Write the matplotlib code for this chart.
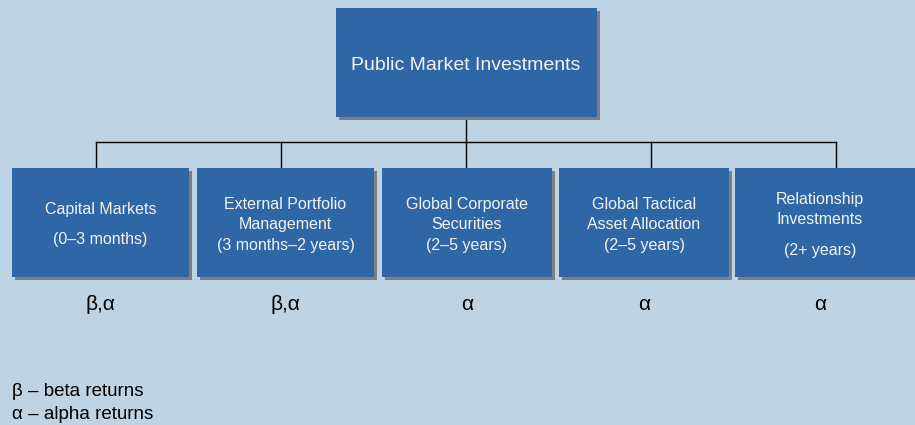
import matplotlib.pyplot as plt
from matplotlib.patches import Rectangle

# Datos del organigrama
raiz = "Public Market Investments"
unidades = [
    ["Capital Markets", "", "(0\u20133 months)"],
    ["External Portfolio", "Management", "(3 months\u20132 years)"],
    ["Global Corporate", "Securities", "(2\u20135 years)"],
    ["Global Tactical", "Asset Allocation", "(2\u20135 years)"],
    ["Relationship", "Investments", "", "(2+ years)"],
]
retornos = ["\u03b2,\u03b1", "\u03b2,\u03b1", "\u03b1", "\u03b1", "\u03b1"]
leyenda = ["\u03b2 \u2013 beta returns", "\u03b1 \u2013 alpha returns"]

fondo = "#BED3E4"
azul = "#2F67A6"
sombra = "#7F7F7F"
plt.rcParams['font.family'] = ['Liberation Sans', 'DejaVu Sans']

fig = plt.figure(figsize=(9.15, 4.25), dpi=100, facecolor=fondo)
ax = fig.add_axes([0, 0, 1, 1])
ax.set_xlim(0, 915)
ax.set_ylim(425, 0)
ax.axis('off')


def caja(x0, y0, x1, y1):
    ax.add_patch(Rectangle((x0 + 3, y0 + 3), x1 - x0, y1 - y0, color=sombra, lw=0, zorder=2))
    ax.add_patch(Rectangle((x0, y0), x1 - x0, y1 - y0, color=azul, lw=0, zorder=3))


# caja principal
caja(336, 8, 597, 117)
ax.text(466, 65, raiz, color="#F2F2F2", fontsize=14, ha='center', va='center', zorder=4)

# conectores
xs_con = [96 + 185 * i for i in range(len(unidades))]
ax.plot([466, 466], [117, 142], color='black', lw=1, zorder=1)
ax.plot([xs_con[0], xs_con[-1]], [142, 142], color='black', lw=1, zorder=1)
for xc in xs_con:
    ax.plot([xc, xc], [142, 168], color='black', lw=1, zorder=1)

# cajas hijas
bordes = [(12, 189), (197, 374), (382, 552), (559, 729), (735, 918)]
for (x0, x1), lineas, ret in zip(bordes, unidades, retornos):
    caja(x0, 168, x1, 277)
    cx = (x0 + x1) / 2 if x1 < 915 else 820
    # alturas: 20.5 px por linea, 10 px extra por hueco
    pasos = [20.5 if l else 10 for l in lineas]
    total = sum(pasos) - 20.5
    y = 224.5 - total / 2
    for l, p in zip(lineas, pasos):
        if l:
            ax.text(cx, y, l, color="#F2F2F2", fontsize=11.5, ha='center', va='center', zorder=4)
        y += p
    ax.text(cx, 305, ret, color='black', fontsize=15, ha='center', va='center')

# leyenda
for i, linea in enumerate(leyenda):
    ax.text(12, 391 + 23.5 * i, linea, color='black', fontsize=13.5, ha='left', va='center')

plt.savefig("out.png", dpi=100, facecolor=fondo)
